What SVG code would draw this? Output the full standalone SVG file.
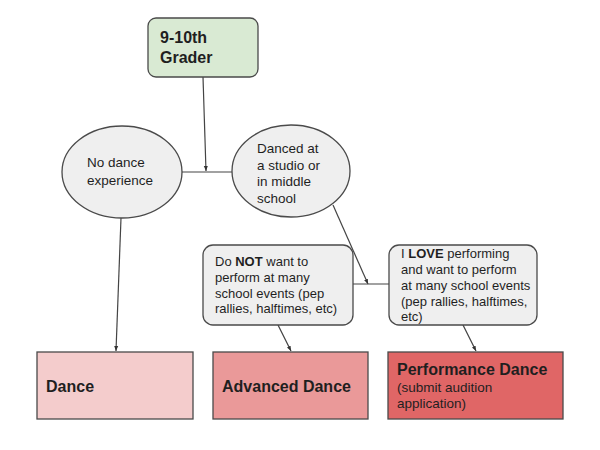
<svg xmlns="http://www.w3.org/2000/svg" width="600" height="450" viewBox="0 0 600 450">
<style>
text{font-family:"Liberation Sans",Arial,sans-serif;fill:#1f1f1f}
.t{font-size:13px}
.e{font-size:13.5px}
.b{font-size:16px;font-weight:bold}
.shape{stroke:#4a4a4a;stroke-width:1.3}
.gray{fill:#efefef}
.line{stroke:#444;stroke-width:1.2;fill:none}
</style>
<defs>
<marker id="ah" viewBox="0 0 10 10" refX="10" refY="5" markerWidth="5" markerHeight="5" orient="auto" markerUnits="userSpaceOnUse">
<path d="M0,1 L10,5 L0,9 z" fill="#333"/>
</marker>
</defs>
<rect width="600" height="450" fill="#fff"/>
<g id="connectors">
<line class="line" x1="203" y1="77" x2="206" y2="171" marker-end="url(#ah)"/>
<line class="line" x1="182" y1="172" x2="232" y2="172"/>
<line class="line" x1="121" y1="218" x2="116" y2="351" marker-end="url(#ah)"/>
<line class="line" x1="333" y1="205" x2="368" y2="284" marker-end="url(#ah)"/>
<line class="line" x1="353" y1="284" x2="389" y2="284"/>
<line class="line" x1="278" y1="325" x2="291" y2="351" marker-end="url(#ah)"/>
<line class="line" x1="463" y1="325" x2="476" y2="351" marker-end="url(#ah)"/>
</g>
<g id="grader">
<rect class="shape" x="148" y="18" width="110" height="59" rx="8" fill="#d9ead3"/>
<text class="b" x="160" y="43">9-10th</text>
<text class="b" x="160" y="63">Grader</text>
</g>
<g id="no-dance">
<ellipse class="shape gray" cx="122" cy="172" rx="60" ry="46"/>
<text class="e" x="87" y="167">No dance</text>
<text class="e" x="87" y="185">experience</text>
</g>
<g id="danced">
<ellipse class="shape gray" cx="291" cy="171" rx="59" ry="46"/>
<text class="e" x="257" y="153">Danced at</text>
<text class="e" x="257" y="169.5">a studio or</text>
<text class="e" x="257" y="186">in middle</text>
<text class="e" x="257" y="202.5">school</text>
</g>
<g id="not-perform">
<rect class="shape gray" x="203" y="245" width="150" height="80" rx="10"/>
<text class="t" x="215" y="266">Do <tspan font-weight="bold">NOT</tspan> want to</text>
<text class="t" x="215" y="282">perform at many</text>
<text class="t" x="215" y="297.5">school events (pep</text>
<text class="t" x="215" y="313">rallies, halftimes, etc)</text>
</g>
<g id="love-perform">
<rect class="shape gray" x="389" y="245" width="148" height="80" rx="10"/>
<text class="t" x="401" y="258">I <tspan font-weight="bold">LOVE</tspan> performing</text>
<text class="t" x="401" y="274">and want to perform</text>
<text class="t" x="401" y="290">at many school events</text>
<text class="t" x="401" y="305.5">(pep rallies, halftimes,</text>
<text class="t" x="401" y="321">etc)</text>
</g>
<g id="dance">
<rect class="shape" x="37" y="352" width="156" height="67" fill="#f4cccc"/>
<text class="b" x="46" y="392">Dance</text>
</g>
<g id="advanced-dance">
<rect class="shape" x="213" y="352" width="155" height="67" fill="#ea9999"/>
<text class="b" x="222" y="392">Advanced Dance</text>
</g>
<g id="performance-dance">
<rect class="shape" x="388" y="352" width="175" height="67" fill="#e06666"/>
<text class="b" x="397" y="375">Performance Dance</text>
<text class="e" x="397" y="392">(submit audition</text>
<text class="e" x="397" y="408">application)</text>
</g>
</svg>
